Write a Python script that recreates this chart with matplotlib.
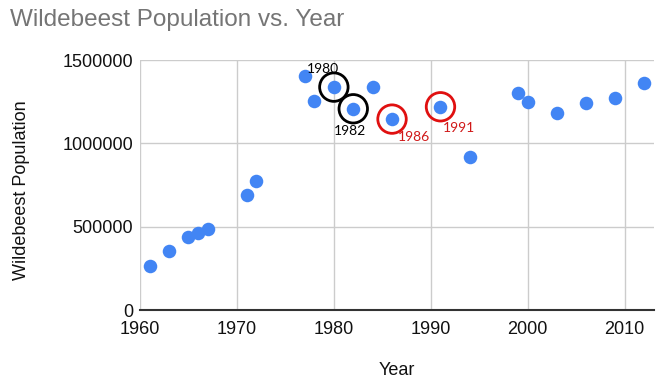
import matplotlib.pyplot as plt
import numpy as np

plt.rcParams['font.family'] = ['Liberation Sans', 'DejaVu Sans']

years = [1961, 1963, 1965, 1966, 1967, 1971, 1972, 1977, 1978, 1980, 1982,
         1984, 1986, 1991, 1994, 1999, 2000, 2003, 2006, 2009, 2012]
population = [263000, 355000, 439000, 462000, 486000, 693000, 773000,
              1404000, 1252000, 1338000, 1208000, 1338000, 1146000,
              1220000, 917000, 1300000, 1248000, 1185000, 1240000,
              1275000, 1365000]

black_marked = [1980, 1982]
red_marked = [1986, 1991]

xticks = [1960, 1970, 1980, 1990, 2000, 2010]
yticks = [0, 500000, 1000000, 1500000]

fig = plt.figure(figsize=(6.62, 3.85), dpi=100)
ax = fig.add_axes([0.2115, 0.1948, 0.776, 0.649])

ax.scatter(years, population, s=95, color='#4285F4', zorder=3, linewidths=0)

pop = dict(zip(years, population))
ax.scatter(black_marked, [pop[y] for y in black_marked], s=420,
           facecolors='none', edgecolors='black', linewidths=2.0, zorder=4)
ax.scatter(red_marked, [pop[y] for y in red_marked], s=420,
           facecolors='none', edgecolors='#e01010', linewidths=2.0, zorder=4)

afont = ['Lato', 'DejaVu Sans']
ax.annotate('1980', (1980, pop[1980]), xytext=(-8, 10), textcoords='offset points',
            fontsize=10, color='black', ha='center', family=afont)
ax.annotate('1982', (1982, pop[1982]), xytext=(-2, -19), textcoords='offset points',
            fontsize=10, color='black', ha='center', family=afont)
ax.annotate('1986', (1986, pop[1986]), xytext=(16, -16), textcoords='offset points',
            fontsize=10, color='#d01818', ha='center', family=afont)
ax.annotate('1991', (1991, pop[1991]), xytext=(13, -18), textcoords='offset points',
            fontsize=10, color='#d01818', ha='center', family=afont)

ax.set_xlim(1960, 2013)
ax.set_ylim(0, 1500000)
ax.set_xticks(xticks)
ax.set_yticks(yticks)
ax.set_yticklabels([str(v) for v in yticks])
ax.tick_params(length=0, labelsize=13, colors='#111111')
ax.tick_params(axis='x', pad=8)
ax.tick_params(axis='y', pad=5)
ax.grid(True, color='#cccccc', linewidth=1)
ax.set_axisbelow(True)
for s in ['top', 'right', 'left']:
    ax.spines[s].set_visible(False)
ax.spines['bottom'].set_color('#333333')
ax.spines['bottom'].set_linewidth(1.5)

ax.set_xlabel('Year', fontsize=13, color='#111111')
ax.set_ylabel('Wildebeest Population', fontsize=13, color='#111111')
ax.xaxis.set_label_coords(0.5, -0.21)
ax.yaxis.set_label_coords(-0.214, 0.48)

fig.text(0.015, 0.947, 'Wildebeest Population vs. Year', fontsize=17.5,
         color='#757575', va='center', ha='left')

fig.savefig('out.png', dpi=100)
